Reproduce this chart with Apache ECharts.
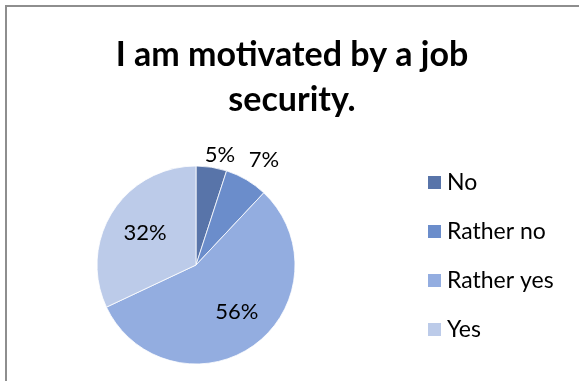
<!DOCTYPE html>
<html>
<head>
<meta charset="utf-8">
<script src="https://cdn.jsdelivr.net/npm/echarts@6/dist/echarts.min.js"></script>
<style>
  html, body { margin: 0; padding: 0; background: #fff; }
  #frame { position: absolute; left: 5px; top: 5px; width: 600px; height: 400px; border: 2px solid #8e8e8e; box-sizing: border-box; }
  #chart { position: absolute; left: 0; top: 0; width: 579px; height: 381px; }
</style>
</head>
<body>
<div id="frame"></div>
<div id="chart"></div>
<script>
// chart data
const categories = ['No', 'Rather no', 'Rather yes', 'Yes'];
const values = [5, 7, 56, 32];
const colors = ['#5874a9', '#6b8dcb', '#93ade0', '#bccbe9'];
// label placement (Excel "best fit"): distance as share of radius, angle nudge in degrees
const labelRadius = [1.14, 1.26, 0.63, 0.61];
const labelNudge = [3.3, 2.4, -5, 0];

const cx = 196, cy = 265, r = 99;
const total = values.reduce((a, b) => a + b, 0);

var chart = echarts.init(document.getElementById('chart'));

const option = {
  animation: false,
  title: {
    text: 'I am motivated by a job\nsecurity.',
    left: 292,
    top: 33,
    padding: 0,
    textAlign: 'center',
    textStyle: {
      fontFamily: 'Lato',
      fontWeight: 'bold',
      fontSize: 34,
      lineHeight: 45,
      color: '#000'
    }
  },
  legend: {
    orient: 'vertical',
    left: 426,
    top: 171,
    padding: 0,
    itemWidth: 15,
    itemHeight: 15,
    itemGap: 26,
    icon: 'rect',
    data: categories,
    textStyle: { fontFamily: 'Lato', fontSize: 23, color: '#000' }
  },
  series: [{
    type: 'pie',
    center: [cx, cy],
    radius: r,
    startAngle: 90,
    clockwise: true,
    avoidLabelOverlap: false,
    itemStyle: { borderColor: '#ffffff', borderWidth: 0.8 },
    label: {
      show: true,
      position: 'inside',
      formatter: '{d}%',
      fontFamily: 'Lato',
      fontSize: 22,
      color: '#000'
    },
    labelLine: { show: false },
    labelLayout: function (params) {
      let i = params.dataIndex;
      let before = 0;
      for (let k = 0; k < i; k++) before += values[k];
      let mid = (before + values[i] / 2) / total * Math.PI * 2 + labelNudge[i] * Math.PI / 180;
      return {
        x: cx + Math.sin(mid) * r * labelRadius[i],
        y: cy - Math.cos(mid) * r * labelRadius[i],
        align: 'center',
        verticalAlign: 'middle'
      };
    },
    emphasis: { disabled: true },
    data: categories.map((name, i) => ({
      name: name,
      value: values[i],
      itemStyle: { color: colors[i] }
    }))
  }]
};

chart.setOption(option);
</script>
</body>
</html>
